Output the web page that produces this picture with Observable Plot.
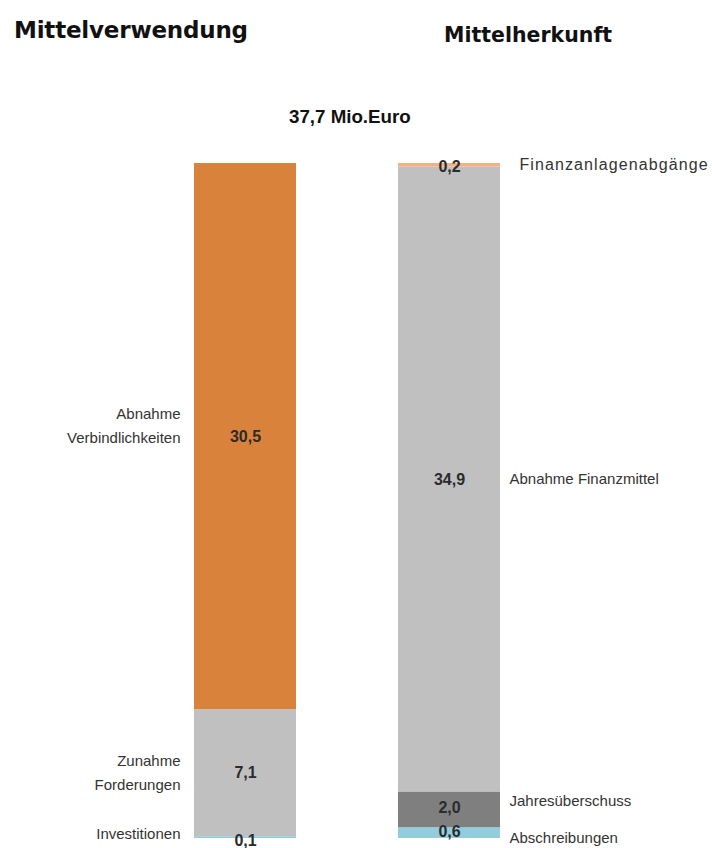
<!DOCTYPE html>
<html>
<head>
<meta charset="utf-8">
<script src="https://cdn.jsdelivr.net/npm/d3@7"></script>
<script src="https://cdn.jsdelivr.net/npm/@observablehq/plot@0.6"></script>
<style>
  html, body { margin: 0; padding: 0; background: #fff; }
  #wrap { position: relative; width: 712px; height: 848px; }
  .t { position: absolute; white-space: nowrap; color: #111; font-weight: bold; }
  #t1 { left: 14px; top: 17px; font: bold 23px "DejaVu Sans", sans-serif; letter-spacing: -0.2px; }
  #t2 { left: 444px; top: 23px; font: bold 20.5px "DejaVu Sans", sans-serif; }
  #t3 { left: 289px; top: 107px; font: bold 18px "Liberation Sans", sans-serif; transform: scaleX(1.04); transform-origin: left; }
  #chart { position: absolute; left: 0; top: 0; }
  .spaced text { letter-spacing: 1.1px; }
</style>
</head>
<body>
<div id="wrap">
  <div id="chart"></div>
  <div class="t" id="t1">Mittelverwendung</div>
  <div class="t" id="t2">Mittelherkunft</div>
  <div class="t" id="t3"></div>
</div>
<script>
// ---- data ----
const sides = ["Mittelverwendung", "Mittelherkunft"];
const useItems = ["Investitionen", "Zunahme\nForderungen", "Abnahme\nVerbindlichkeiten"];
const useValues = [0.1, 7.1, 30.5];
const sourceItems = ["Abschreibungen", "Jahresüberschuss", "Abnahme Finanzmittel", "Finanzanlagenabgänge"];
const sourceValues = [0.6, 2.0, 34.9, 0.2];
const totalValue = 37.7;
const totalUnit = "Mio.Euro";

// ---- styles ----
const colors = {
  "Investitionen": "#93cddd",
  "Zunahme\nForderungen": "#c0c0c0",
  "Abnahme\nVerbindlichkeiten": "#d9823c",
  "Abschreibungen": "#93cddd",
  "Jahresüberschuss": "#7f7f7f",
  "Abnahme Finanzmittel": "#c0c0c0",
  "Finanzanlagenabgänge": "#f4b183"
};
// small nudges for labels (px)
const valueNudge = {"Investitionen": 3, "Finanzanlagenabgänge": 2, "Jahresüberschuss": -2, "Abschreibungen": -1};
const labelNudge = {"Abnahme\nVerbindlichkeiten": -13, "Investitionen": -6, "Jahresüberschuss": -9, "Abschreibungen": 5, "Zunahme\nForderungen": -3};
const spacedLabel = "Finanzanlagenabgänge";

const fmt = v => v.toFixed(1).replace(".", ",");

// stacked rows (bottom-up), computed from the value arrays
function stackSide(side, names, values) {
  let acc = 0;
  return names.map((name, i) => {
    const y1 = acc; acc += values[i];
    return {side, name, value: values[i], y1, y2: acc, mid: (y1 + acc) / 2};
  });
}
const rows = [
  ...stackSide(sides[0], useItems, useValues),
  ...stackSide(sides[1], sourceItems, sourceValues)
];

document.getElementById("t3").textContent = fmt(totalValue) + " " + totalUnit;

const marks = [
  Plot.rectY(rows, {x: "side", y1: "y1", y2: "y2", fill: d => colors[d.name]})
];
for (const nudge of new Set(rows.map(d => valueNudge[d.name] ?? 0))) {
  marks.push(Plot.text(rows.filter(d => (valueNudge[d.name] ?? 0) === nudge), {
    x: "side", y: "mid", text: d => fmt(d.value),
    fill: "#2b2b2b", fontWeight: "bold", fontSize: 16, dy: nudge
  }));
}
for (const nudge of new Set(rows.map(d => labelNudge[d.name] ?? 0))) {
  marks.push(Plot.text(rows.filter(d => d.side === sides[0] && (labelNudge[d.name] ?? 0) === nudge), {
    x: "side", y: "mid", text: "name",
    textAnchor: "end", dx: -65, dy: nudge, lineHeight: 1.6,
    fill: "#333", fontSize: 15
  }));
  marks.push(Plot.text(rows.filter(d => d.side === sides[1] && d.name !== spacedLabel && (labelNudge[d.name] ?? 0) === nudge), {
    x: "side", y: "mid", text: "name",
    textAnchor: "start", dx: 60, dy: nudge,
    fill: "#333", fontSize: 15
  }));
}
marks.push(Plot.text(rows.filter(d => d.name === spacedLabel), {
  x: "side", y: "mid", text: "name",
  textAnchor: "start", dx: 70, dy: 0,
  fill: "#333", fontSize: 16, className: "spaced"
}));

const chart = Plot.plot({
  width: 712,
  height: 848,
  marginTop: 163,
  marginBottom: 10,
  marginLeft: 91,
  marginRight: 110,
  style: {fontFamily: "Liberation Sans, Arial, sans-serif", background: "transparent", overflow: "visible"},
  x: {domain: sides, padding: 0.5, axis: null},
  y: {domain: [0, totalValue], axis: null},
  marks
});
document.getElementById("chart").appendChild(chart);
</script>
</body>
</html>
